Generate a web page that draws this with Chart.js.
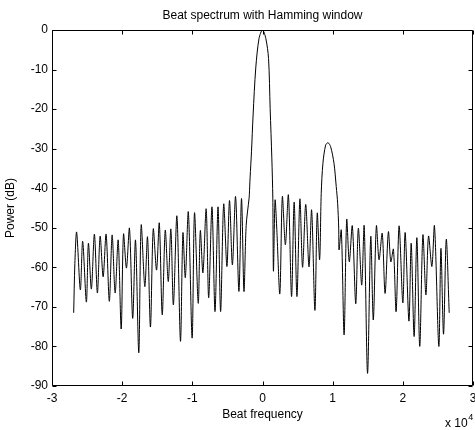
<!DOCTYPE html>
<html>
<head>
<meta charset="utf-8">
<title>Beat spectrum with Hamming window</title>
<script src="https://cdn.jsdelivr.net/npm/chart.js@4.4.1/dist/chart.umd.min.js"></script>
<style>
  html, body { margin: 0; padding: 0; background: #fff; }
  canvas { display: block; }
</style>
</head>
<body>
<canvas id="spectrum" width="475" height="430"></canvas>
<script>
// beat frequency in units of 1e4 (axis shows "x 10^4")
const beatFreq = [
  -2.691, -2.674, -2.649, -2.596, -2.563, -2.510, -2.481, -2.439, -2.396, -2.353,
  -2.314, -2.271, -2.229, -2.183, -2.143, -2.100, -2.057, -2.014, -1.981, -1.939,
  -1.896, -1.850, -1.810, -1.763, -1.729, -1.677, -1.639, -1.597, -1.557, -1.510,
  -1.471, -1.429, -1.386, -1.343, -1.306, -1.270, -1.220, -1.169, -1.134, -1.100,
  -1.057, -1.003, -0.969, -0.916, -0.886, -0.849, -0.803, -0.767, -0.720, -0.677,
  -0.634, -0.597, -0.553, -0.507, -0.470, -0.429, -0.384, -0.336, -0.299, -0.264,
  -0.233, -0.191, -0.187, -0.177, -0.157, -0.134, -0.096, -0.049, 0.000, 0.047,
  0.086, 0.109, 0.133, 0.147, 0.156, 0.179, 0.204, 0.247, 0.283, 0.326,
  0.369, 0.414, 0.451, 0.491, 0.533, 0.571, 0.616, 0.663, 0.700, 0.747,
  0.780, 0.814, 0.837, 0.861, 0.900, 0.934, 0.971, 1.019, 1.051, 1.071,
  1.086, 1.091, 1.123, 1.163, 1.200, 1.237, 1.280, 1.329, 1.366, 1.414,
  1.449, 1.497, 1.543, 1.579, 1.623, 1.661, 1.706, 1.747, 1.794, 1.829,
  1.866, 1.904, 1.947, 2.000, 2.033, 2.087, 2.119, 2.161, 2.200, 2.241,
  2.286, 2.329, 2.366, 2.414, 2.451, 2.513, 2.543, 2.580, 2.619, 2.661
];

// power in dB
const powerDb = [
  -71.5, -59.0, -51.1, -65.7, -53.4, -68.8, -53.9, -65.5, -51.6, -66.5,
  -52.1, -62.4, -51.6, -68.6, -51.8, -66.5, -53.1, -75.6, -51.6, -60.2,
  -50.1, -72.9, -53.1, -81.6, -49.3, -64.9, -52.3, -75.1, -50.3, -60.7,
  -48.8, -72.0, -50.6, -63.6, -50.3, -69.5, -47.0, -78.7, -51.3, -62.6,
  -46.0, -77.9, -46.2, -69.1, -50.7, -61.4, -45.2, -67.7, -44.7, -71.2,
  -44.7, -71.2, -44.0, -59.8, -43.1, -59.4, -42.1, -66.1, -42.6, -66.1,
  -49.5, -42.5, -41.5, -37.4, -30.8, -21.5, -9.6, -2.1, 0.0, -2.1,
  -7.2, -19.8, -32.4, -42.5, -61.0, -43.0, -50.5, -66.7, -42.1, -54.3,
  -41.7, -67.4, -43.5, -67.4, -42.7, -60.0, -44.1, -59.9, -45.5, -70.9,
  -46.3, -58.1, -41.3, -33.7, -29.1, -28.5, -29.5, -33.7, -39.6, -43.8,
  -50.1, -55.6, -50.6, -77.1, -47.9, -58.6, -49.5, -69.2, -50.1, -64.5,
  -49.5, -86.8, -52.2, -73.3, -49.5, -58.1, -51.4, -66.6, -51.0, -58.6,
  -55.4, -71.2, -49.5, -69.0, -51.2, -73.6, -53.9, -77.5, -52.5, -80.0,
  -51.8, -67.0, -52.1, -59.8, -49.5, -80.0, -55.2, -76.9, -52.9, -71.5
];

const xTickValues = [-3, -2, -1, 0, 1, 2, 3];
const yTickValues = [-90, -80, -70, -60, -50, -40, -30, -20, -10, 0];

const FONT = 'Arial, "Liberation Sans", Helvetica, sans-serif';

// matlab style box with inward ticks, plus the "x 10^4" exponent
const matlabAxes = {
  id: 'matlabAxes',
  afterDraw(chart) {
    const { ctx, chartArea: a, scales: { x, y } } = chart;
    const crisp = v => Math.round(v) + 0.5;
    const L = crisp(a.left), R = crisp(a.right) - 1, T = crisp(a.top), B = crisp(a.bottom) - 1;
    const tick = 4;
    ctx.save();
    ctx.strokeStyle = '#000';
    ctx.lineWidth = 1;
    ctx.beginPath();
    ctx.rect(L, T, R - L, B - T);
    xTickValues.forEach(v => {
      const px = crisp(x.getPixelForValue(v));
      ctx.moveTo(px, B); ctx.lineTo(px, B - tick);
      ctx.moveTo(px, T); ctx.lineTo(px, T + tick);
    });
    yTickValues.forEach(v => {
      const py = crisp(y.getPixelForValue(v));
      ctx.moveTo(L, py); ctx.lineTo(L + tick, py);
      ctx.moveTo(R, py); ctx.lineTo(R - tick, py);
    });
    ctx.stroke();

    ctx.fillStyle = '#000';
    ctx.textBaseline = 'alphabetic';
    ctx.textAlign = 'left';
    ctx.font = '12px ' + FONT;
    const base = 'x 10';
    const bx = 445, by = 427;
    ctx.fillText(base, bx, by);
    const w = ctx.measureText(base).width;
    ctx.font = '9px ' + FONT;
    ctx.fillText('4', bx + w + 0.5, by - 7);
    ctx.restore();
  }
};

const points = beatFreq.map((f, i) => ({ x: f, y: powerDb[i] }));

new Chart(document.getElementById('spectrum'), {
  type: 'scatter',
  data: {
    datasets: [{
      data: points,
      showLine: true,
      borderColor: '#000',
      borderWidth: 1,
      pointRadius: 0,
      tension: 0.3
    }]
  },
  options: {
    responsive: false,
    animation: false,
    devicePixelRatio: 1,
    layout: { padding: { left: 0, right: 2, top: 0, bottom: 0 } },
    plugins: {
      legend: { display: false },
      tooltip: { enabled: false },
      title: {
        display: true,
        text: 'Beat spectrum with Hamming window',
        fullSize: false,
        color: '#000',
        font: { family: FONT, size: 12, weight: 'normal' },
        padding: { top: 8, bottom: 7.6 }
      }
    },
    scales: {
      x: {
        type: 'linear',
        min: -3,
        max: 3,
        grid: { display: false, drawTicks: false },
        border: { display: false },
        afterBuildTicks: s => { s.ticks = xTickValues.map(v => ({ value: v })); },
        afterFit: s => { s.height = 44; s.paddingRight = 0; s.paddingLeft = 0; },
        ticks: {
          color: '#000',
          padding: 5,
          maxRotation: 0,
          font: { family: FONT, size: 12 }
        },
        title: {
          display: true,
          text: 'Beat frequency',
          color: '#000',
          font: { family: FONT, size: 12 },
          padding: { top: 0, bottom: 8 }
        }
      },
      y: {
        type: 'linear',
        min: -90,
        max: 0,
        grid: { display: false, drawTicks: false },
        border: { display: false },
        afterBuildTicks: s => { s.ticks = yTickValues.map(v => ({ value: v })); },
        afterFit: s => { s.width = 52; },
        ticks: {
          color: '#000',
          padding: 4,
          font: { family: FONT, size: 12 }
        },
        title: {
          display: true,
          text: 'Power (dB)',
          color: '#000',
          font: { family: FONT, size: 12 },
          padding: { top: 3, bottom: 0 }
        }
      }
    }
  },
  plugins: [matlabAxes]
});
</script>
</body>
</html>
